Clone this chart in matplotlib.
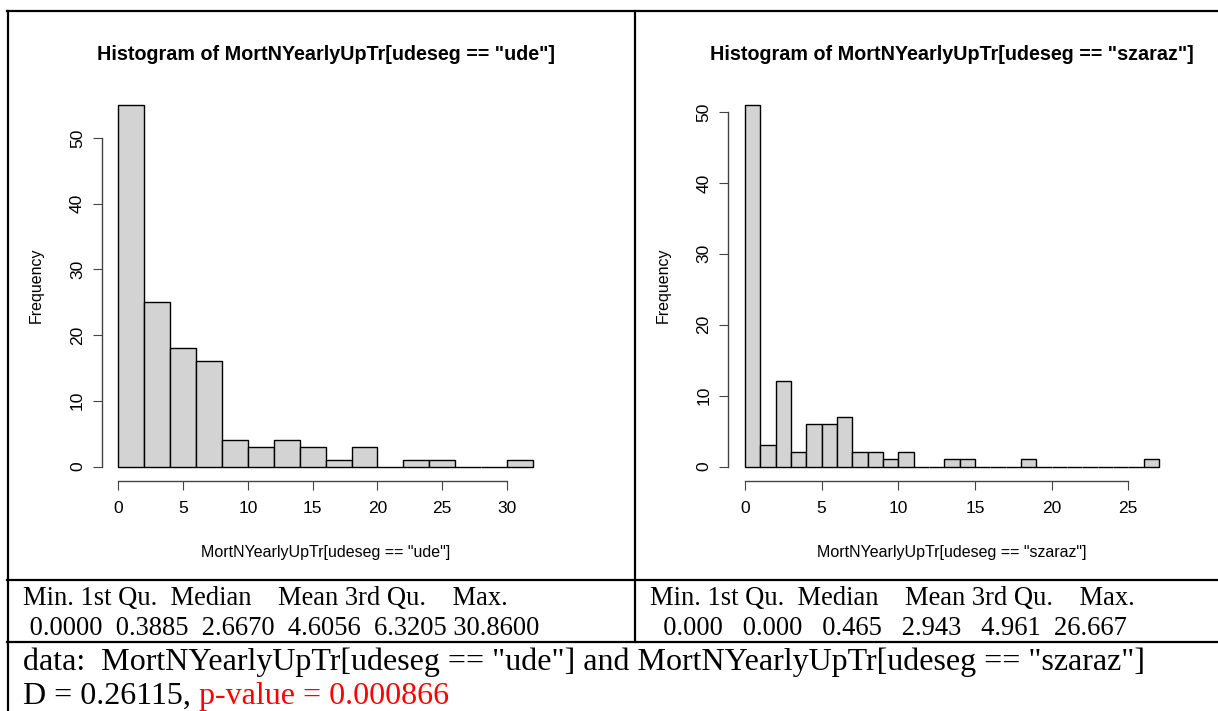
import numpy as np
import matplotlib
matplotlib.use('Agg')
import matplotlib.pyplot as plt
from matplotlib.lines import Line2D

# histogram counts
ude_breaks = [0, 2, 4, 6, 8, 10, 12, 14, 16, 18, 20, 22, 24, 26, 28, 30, 32]
ude_counts = [55, 25, 18, 16, 4, 3, 4, 3, 1, 3, 0, 1, 1, 0, 0, 1]
szaraz_breaks = list(range(0, 28))
szaraz_counts = [51, 3, 12, 2, 6, 6, 7, 2, 2, 1, 2, 0, 0, 1, 1, 0, 0, 0, 1,
                 0, 0, 0, 0, 0, 0, 0, 1]

ude_xticks = [0, 5, 10, 15, 20, 25, 30]
szaraz_xticks = [0, 5, 10, 15, 20, 25]
yticks = [0, 10, 20, 30, 40, 50]

titles = ['Histogram of MortNYearlyUpTr[udeseg == "ude"]',
          'Histogram of MortNYearlyUpTr[udeseg == "szaraz"]']
xlabels = ['MortNYearlyUpTr[udeseg == "ude"]',
           'MortNYearlyUpTr[udeseg == "szaraz"]']

summary_head = 'Min. 1st Qu.  Median    Mean 3rd Qu.    Max.'
summary_ude = ' 0.0000  0.3885  2.6670  4.6056  6.3205 30.8600'
summary_szaraz = '  0.000   0.000   0.465   2.943   4.961  26.667'
ks_data = 'data:  MortNYearlyUpTr[udeseg == "ude"] and MortNYearlyUpTr[udeseg == "szaraz"]'
ks_stat = 'D = 0.26115, '
ks_p = 'p-value = 0.000866'

W, H = 1218, 711
fig = plt.figure(figsize=(W / 100, H / 100), dpi=100)


def fx(x):
    return x / W


def fy(y):
    return 1 - y / H


sans = 'Liberation Sans'
serif = 'Liberation Serif'
axcol = '#444444'

panels = [
    (ude_breaks, ude_counts, ude_xticks, 101.7, 549.5, 36, 0),
    (szaraz_breaks, szaraz_counts, szaraz_xticks, 728.4, 1175.5, 663, 1),
]
for breaks, counts, xt, x0, x1, ylab_x, i in panels:
    top, bot = 90.5, 481
    ax = fig.add_axes([fx(x0), fy(bot), (x1 - x0) / W, (bot - top) / H])
    edges = np.array(breaks)
    ax.bar(edges[:-1], counts, width=np.diff(edges), align='edge',
           color='#d3d3d3', edgecolor='black', linewidth=1.0)
    xr = edges[-1] - edges[0]
    yr = max(counts)
    ax.set_xlim(edges[0] - 0.04 * xr, edges[-1] + 0.04 * xr)
    ax.set_ylim(-0.04 * yr, yr * 1.04)
    for s in ['top', 'right']:
        ax.spines[s].set_visible(False)
    ax.spines['left'].set_bounds(yticks[0], yticks[-1])
    ax.spines['bottom'].set_bounds(xt[0], xt[-1])
    for s in ['left', 'bottom']:
        ax.spines[s].set_color(axcol)
        ax.spines[s].set_linewidth(1.0)
    ax.set_xticks(xt)
    ax.set_yticks(yticks)
    ax.tick_params(direction='out', length=6.5, width=0.8, color=axcol,
                   labelsize=12.5)
    ax.tick_params(axis='x', pad=7.8)
    ax.tick_params(axis='y', pad=5.6)
    for lab in ax.get_xticklabels() + ax.get_yticklabels():
        lab.set_fontfamily(sans)
    for lab in ax.get_yticklabels():
        lab.set_rotation(90)
        lab.set_va('center')
    fig.text(fx((x0 + x1) / 2), fy(60), titles[i], ha='center', va='baseline',
             fontsize=14.2, fontweight='bold', family=sans)
    fig.text(fx((x0 + x1) / 2), fy(557), xlabels[i], ha='center', va='baseline',
             fontsize=11.5, family=sans)
    fig.text(fx(ylab_x), fy((top + bot) / 2), 'Frequency', rotation=90,
             ha='center', va='center', fontsize=11.5, family=sans)

# table borders
lw = 1.6
for (xa, ya), (xb, yb) in [((7, 11), (1218, 11)), ((7.5, 11), (7.5, 711)),
                           ((635, 11), (635, 642)), ((7, 580), (1218, 580)),
                           ((7, 642), (1218, 642))]:
    fig.add_artist(Line2D([fx(xa), fx(xb)], [fy(ya), fy(yb)], color='black',
                          linewidth=lw, transform=fig.transFigure))

# summary rows
fig.text(fx(22.7), fy(605), summary_head, fontsize=19.1, family=serif, va='baseline')
fig.text(fx(22.7), fy(635), summary_ude, fontsize=19.1, family=serif, va='baseline')
fig.text(fx(650), fy(605), summary_head, fontsize=19.1, family=serif, va='baseline')
fig.text(fx(650), fy(635), summary_szaraz, fontsize=19.1, family=serif, va='baseline')

# KS test text
fig.text(fx(22.7), fy(670), ks_data, fontsize=23, family=serif, va='baseline')
t1 = fig.text(fx(22.7), fy(704), ks_stat, fontsize=23, family=serif, va='baseline')
plt.annotate(ks_p, xy=(1, 0), xycoords=t1, xytext=(0, 0), textcoords='offset points',
             ha='left', va='bottom', fontsize=23, family=serif, color='red',
             annotation_clip=False)

fig.savefig('out.png', dpi=100)
